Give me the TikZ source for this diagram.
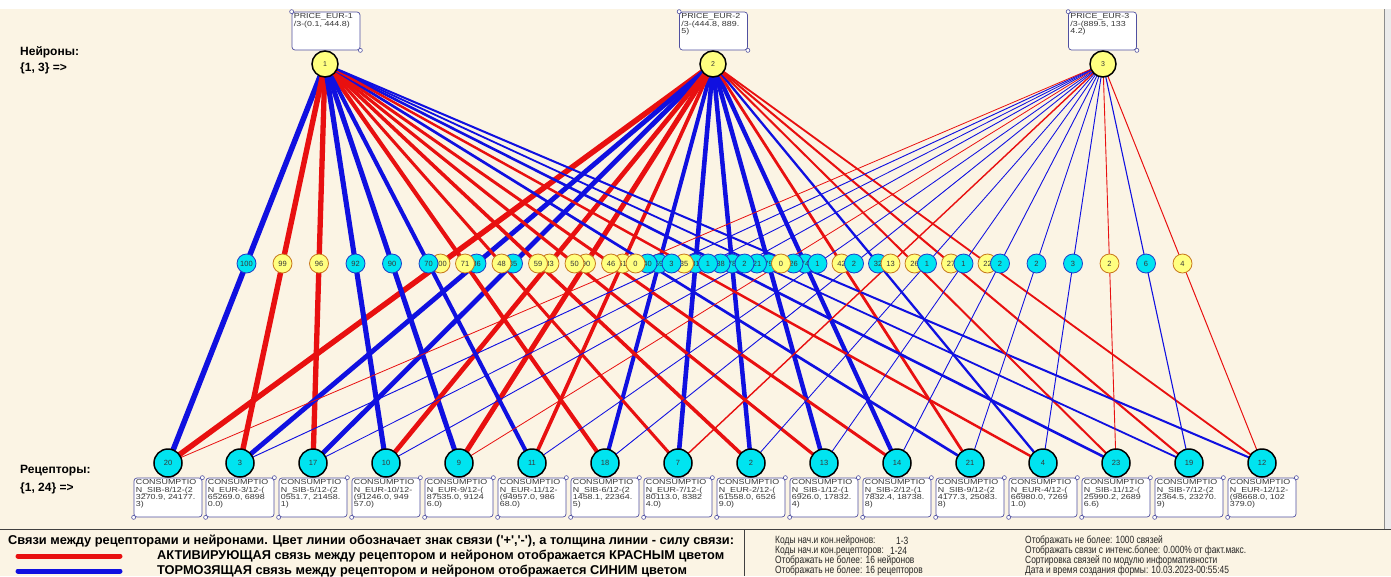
\documentclass[tikz,border=0pt]{standalone}
\usepackage{fontspec}
\setmainfont{Liberation Sans}
\newfontfamily\lgf{Liberation Sans}[Ligatures=TeXOff]
\newfontfamily\bxf{Liberation Sans}[FakeStretch=1.22]
\newfontfamily\nrf{Liberation Sans}[FakeStretch=0.8]
\definecolor{bgc}{RGB}{251,244,228}
\definecolor{redl}{RGB}{232,16,16}
\definecolor{bluel}{RGB}{16,16,224}
\definecolor{cyf}{RGB}{0,228,240}
\definecolor{yef}{RGB}{255,255,128}
\definecolor{yeb}{RGB}{200,120,30}
\definecolor{cyb}{RGB}{30,60,200}
\definecolor{bxc}{RGB}{80,80,160}
\definecolor{txg}{RGB}{55,55,55}
\pgfdeclarelayer{back}
\pgfdeclarelayer{lines}
\pgfsetlayers{back,lines,main}
\tikzset{
  neuron/.style={circle, draw=black, line width=1.5pt, fill=yef, minimum size=26pt, inner sep=0pt, font=\fontsize{7}{7}\selectfont, text=txg},
  receptor/.style={circle, draw=black, line width=1.5pt, fill=cyf, minimum size=28pt, inner sep=0pt, font=\fontsize{7.5}{8}\selectfont, text=txg},
  nbox/.style={draw=bxc, rounded corners=3pt, fill=white, minimum width=68pt, minimum height=38pt, line width=0.7pt, inner sep=0pt},
  rbox/.style={draw=bxc, rounded corners=3pt, fill=white, minimum width=68pt, minimum height=39pt, line width=0.7pt, inner sep=0pt},
  handle/.style={circle, draw=bxc, fill=white, minimum size=4pt, inner sep=0pt, line width=0.6pt},
  btext/.style={anchor=north west, align=left, inner sep=0pt, font=\bxf\fontsize{7.3}{7.2}\selectfont, text=txg},
  lab/.style={circle, minimum size=19pt, inner sep=0pt, line width=0.8pt, font=\fontsize{7.5}{8}\selectfont, text=txg},
  labp/.style={lab, fill=yef, draw=yeb},
  labm/.style={lab, fill=cyf, draw=cyb},
  linkp/.style={draw=redl},
  linkm/.style={draw=bluel},
  lbl/.style={anchor=west, inner sep=0pt, font=\lgf\bfseries\fontsize{12}{14}\selectfont},
  leg/.style={anchor=west, inner sep=0pt, font=\lgf\bfseries\fontsize{12.8}{14}\selectfont},
  info/.style={anchor=west, inner sep=0pt, font=\nrf\fontsize{10.5}{10.5}\selectfont, text=black!85},
}
\newcommand\neur[5]{%
  \node[nbox] (nb#1) at (#3,31) {};
  \node[handle] (nh#1a) at (nb#1.north west) {};
  \node[handle] (nh#1b) at (nb#1.south east) {};
  \node[btext] (nt#1) at ([shift={(2,2)}]nb#1.north west) {PRICE\_EUR-#1\\#4\\#5};
  \node[neuron] (n#1) at (#2,64) {#1};}
\newcommand\recep[5]{%
  \node[rbox] (rb#1) at (#2,497.5) {};
  \node[handle] (rh#1a) at (rb#1.north east) {};
  \node[handle] (rh#1b) at (rb#1.south west) {};
  \node[btext] (rt#1) at ([shift={(2,2)}]rb#1.north west) {CONSUMPTIO\\#3\\#4\\#5};
  \node[receptor] (r#1) at (#2,463) {#1};}
\begin{document}
\begin{tikzpicture}[x=1pt,y=-1pt]
\useasboundingbox (0,0) rectangle (1391,576);
\begin{pgfonlayer}{back}
  \fill[white] (0,0) rectangle (1391,9);
  \fill[bgc] (0,9) rectangle (1391,576);
  \fill[black!8] (1384,9) rectangle (1391,529);
  \draw[black!45] (1384,9) -- (1384,529);
  \draw[black!75, line width=0.8pt] (0,529) -- (1391,529);
  \draw[black!75, line width=0.8pt] (744,529) -- (744,576);
\end{pgfonlayer}

% neurons
\neur{1}{325}{326}{/3-(0.1, 444.8)}{}
\neur{2}{713}{713.5}{/3-(444.8, 889.}{5)}
\neur{3}{1103}{1102.5}{/3-(889.5, 133}{4.2)}

% receptors
\recep{20}{168}{N\_SIB-8/12-(2}{3270.9, 24177.}{3)}
\recep{3}{240}{N\_EUR-3/12-(}{65269.0, 6898}{0.0)}
\recep{17}{313}{N\_SIB-5/12-(2}{0551.7, 21458.}{1)}
\recep{10}{386}{N\_EUR-10/12-}{(91246.0, 949}{57.0)}
\recep{9}{459}{N\_EUR-9/12-(}{87535.0, 9124}{6.0)}
\recep{11}{532}{N\_EUR-11/12-}{(94957.0, 986}{68.0)}
\recep{18}{605}{N\_SIB-6/12-(2}{1458.1, 22364.}{5)}
\recep{7}{678}{N\_EUR-7/12-(}{80113.0, 8382}{4.0)}
\recep{2}{751}{N\_EUR-2/12-(}{61558.0, 6526}{9.0)}
\recep{13}{824}{N\_SIB-1/12-(1}{6926.0, 17832.}{4)}
\recep{14}{897}{N\_SIB-2/12-(1}{7832.4, 18738.}{8)}
\recep{21}{970}{N\_SIB-9/12-(2}{4177.3, 25083.}{8)}
\recep{4}{1043}{N\_EUR-4/12-(}{66980.0, 7269}{1.0)}
\recep{23}{1116}{N\_SIB-11/12-(}{25990.2, 2689}{6.6)}
\recep{19}{1189}{N\_SIB-7/12-(2}{2364.5, 23270.}{9)}
\recep{12}{1262}{N\_EUR-12/12-}{(98668.0, 102}{379.0)}

% links and their labels (sorted by strength, weakest on top)
\def\links{1/20/100/m, 2/20/100/p, 1/3/99/p, 1/17/96/p, 1/10/92/m, 1/9/90/m, 2/9/90/p, 2/3/86/m, 2/17/85/m, 2/10/83/p, 2/7/81/m, 2/13/79/m, 2/2/78/m, 2/14/74/m, 1/18/71/p, 1/11/70/m, 2/18/69/m, 2/11/61/p, 1/2/59/p, 1/13/50/p, 1/7/48/p, 1/14/46/p, 2/21/42/p, 1/21/40/m, 1/23/38/m, 1/4/35/p, 2/4/32/m, 2/19/27/p, 1/12/26/m, 2/23/26/p, 2/12/22/p, 1/19/21/m, 3/7/13/p, 3/19/6/m, 3/12/4/p, 3/3/3/m, 3/4/3/m, 3/10/2/m, 3/18/2/m, 3/14/2/m, 3/21/2/m, 3/23/2/p, 3/17/1/m, 3/11/1/m, 3/2/1/m, 3/13/1/m, 3/20/0/p, 3/9/0/p}
\begin{pgfonlayer}{lines}
\foreach \n/\r/\v/\s in \links {
  \pgfmathsetmacro\w{0.8+0.047*\v}
  \draw[link\s, line width=\w pt] (n\n.center) -- (r\r.center);
}
\end{pgfonlayer}
\foreach \n/\r/\v/\s in \links {
  \path (n\n.center) -- (r\r.center) node[midway, lab\s] (lab\n x\r) {\v};
}

% side labels
\node[lbl] (tn1) at (20,52) {Нейроны:};
\node[lbl] (tn2) at (20,68) {\{1, 3\} =>};
\node[lbl] (tr1) at (20,471) {Рецепторы:};
\node[lbl] (tr2) at (20,488) {\{1, 24\} =>};

% legend
\node[leg] (lg1) at (8,541) {Связи между рецепторами и нейронами. Цвет линии обозначает знак связи ('+','-'), а толщина линии - силу связи:};
\coordinate (pa) at (18,556); \coordinate (pb) at (120,556);
\coordinate (ma) at (18,571); \coordinate (mb) at (120,571);
\draw[redl, line width=5pt, line cap=round] (pa) -- (pb);
\draw[bluel, line width=5pt, line cap=round] (ma) -- (mb);
\node[leg] (lg2) at (157,556) {АКТИВИРУЮЩАЯ связь между рецептором и нейроном отображается КРАСНЫМ цветом};
\node[leg] (lg3) at (157,571) {ТОРМОЗЯЩАЯ связь между рецептором и нейроном отображается СИНИМ цветом};

\node[info] (i1) at (775,540.5) {Коды нач.и кон.нейронов:};
\node[info] (i1v) at (896,540.5) {1-3};
\node[info] (i2) at (775,550.5) {Коды нач.и кон.рецепторов:};
\node[info] (i2v) at (890,550.5) {1-24};
\node[info] (i3) at (775,560.5) {Отображать не более: 16 нейронов};
\node[info] (i4) at (775,570.5) {Отображать не более: 16 рецепторов};
\node[info] (j1) at (1025,540.5) {Отображать не более: 1000 связей};
\node[info] (j2) at (1025,550.5) {Отображать связи с интенс.более: 0.000\% от факт.макс.};
\node[info] (j3) at (1025,560.5) {Сортировка связей по модулю информативности};
\node[info] (j4) at (1025,570.5) {Дата и время создания формы: 10.03.2023-00:55:45};
\end{tikzpicture}
\end{document}
